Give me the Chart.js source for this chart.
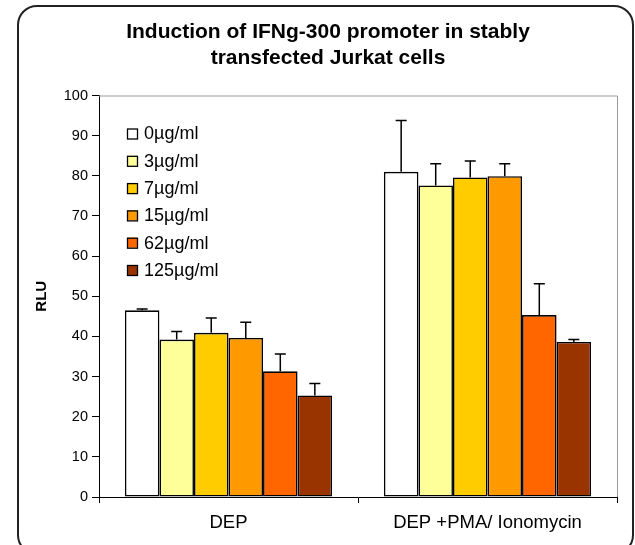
<!DOCTYPE html>
<html>
<head>
<meta charset="utf-8">
<script src="https://cdn.jsdelivr.net/npm/chart.js@4.4.1/dist/chart.umd.min.js"></script>
<style>
  html, body { margin: 0; padding: 0; background: #fff; overflow: hidden; }
  #wrap { position: relative; width: 635px; height: 545px; overflow: hidden; }
  #frame {
    position: absolute; left: 17px; top: 5px; width: 617px; height: 550px;
    border: 2px solid #222; border-radius: 20px; box-sizing: border-box; pointer-events: none;
  }
  canvas { position: absolute; left: 0; top: 0; }
</style>
</head>
<body>
<div id="wrap">
  <canvas id="chart" width="635" height="545"></canvas>
  <div id="frame"></div>
</div>
<script>
const categories = ["DEP", "DEP +PMA/ Ionomycin"];
const doses = ["0µg/ml", "3µg/ml", "7µg/ml", "15µg/ml", "62µg/ml", "125µg/ml"];
const colors = ["#FFFFFF", "#FFFF99", "#FFCC00", "#FF9900", "#FF6600", "#993300"];

// RLU means and upper error (SD) per dose
const dep = [46.5, 39.2, 40.9, 39.6, 31.3, 25.3];
const depErr = [0.3, 2.0, 3.7, 3.9, 4.3, 3.0];
const pma = [81.0, 77.6, 79.6, 79.9, 45.3, 38.6];
const pmaErr = [12.8, 5.4, 4.1, 3.1, 7.8, 0.6];

const yMin = 0, yMax = 100, yStep = 10;

Chart.defaults.font.family = "'Liberation Sans', Arial, sans-serif";
Chart.defaults.color = "#000";

// plot frame: gray top and right edges
const plotFrame = {
  id: "plotFrame",
  beforeDatasetsDraw(chart) {
    const { ctx, chartArea: a } = chart;
    ctx.save();
    ctx.strokeStyle = "#999";
    ctx.lineWidth = 1;
    ctx.beginPath();
    ctx.moveTo(a.left, a.top + 0.5);
    ctx.lineTo(a.right + 0.5, a.top + 0.5);
    ctx.lineTo(a.right + 0.5, a.bottom);
    ctx.stroke();
    ctx.restore();
  }
};

// upper-only error bars with caps
const errorBars = {
  id: "errorBars",
  afterDatasetsDraw(chart) {
    const { ctx, scales: { y } } = chart;
    ctx.save();
    ctx.strokeStyle = "#000";
    ctx.lineWidth = 1.5;
    chart.data.datasets.forEach((ds, i) => {
      chart.getDatasetMeta(i).data.forEach((bar, j) => {
        const top = y.getPixelForValue(ds.data[j] + ds.errors[j]);
        ctx.beginPath();
        ctx.moveTo(bar.x, bar.y);
        ctx.lineTo(bar.x, top);
        ctx.moveTo(bar.x - 5.5, top);
        ctx.lineTo(bar.x + 5.5, top);
        ctx.stroke();
      });
    });
    ctx.restore();
  }
};

// legend inside the plot, top left
const insideLegend = {
  id: "insideLegend",
  afterDraw(chart) {
    const { ctx, chartArea: a } = chart;
    ctx.save();
    ctx.font = "18px 'Liberation Sans', Arial, sans-serif";
    ctx.textBaseline = "middle";
    chart.data.datasets.forEach((ds, i) => {
      const x = a.left + 28, y = a.top + 38 + i * 27.3;
      ctx.fillStyle = ds.backgroundColor;
      ctx.fillRect(x, y - 5, 10, 10);
      ctx.strokeStyle = "#000";
      ctx.lineWidth = 1.3;
      ctx.strokeRect(x + 0.5, y - 4.5, 10, 10);
      ctx.fillStyle = "#000";
      ctx.fillText(ds.label, x + 17, y + 1);
    });
    ctx.restore();
  }
};

new Chart(document.getElementById("chart"), {
  type: "bar",
  data: {
    labels: categories,
    datasets: doses.map((d, i) => ({
      label: d,
      data: [dep[i], pma[i]],
      errors: [depErr[i], pmaErr[i]],
      backgroundColor: colors[i],
      borderColor: "#000",
      borderWidth: 1.6,
      borderSkipped: false,
      categoryPercentage: 0.8,
      barPercentage: 1.0,
    })),
  },
  options: {
    responsive: false,
    animation: false,
    devicePixelRatio: 1,
    layout: { padding: { left: 39, right: 18, top: 0, bottom: 0 } },
    plugins: {
      legend: { display: false },
      tooltip: { enabled: false },
      title: {
        display: true,
        text: ["Induction of IFNg-300 promoter in stably", "transfected Jurkat cells"],
        font: { size: 21, weight: "bold", lineHeight: 1.25 },
        color: "#000",
        padding: { top: 19, bottom: 24 },
      },
    },
    scales: {
      x: {
        grid: { offset: true, drawOnChartArea: false, color: "#000", tickLength: 6 },
        border: { color: "#000", width: 1 },
        ticks: { font: { size: 18.5 }, padding: 9, color: "#000" },
        afterFit: (s) => { s.height = 48; },
      },
      y: {
        min: yMin,
        max: yMax,
        grid: { drawOnChartArea: false, color: "#000", tickLength: 7 },
        border: { color: "#000", width: 1 },
        ticks: { stepSize: yStep, font: { size: 14.5 }, padding: 4, color: "#000" },
        title: {
          display: true,
          text: "RLU",
          font: { size: 15, weight: "bold" },
          color: "#000",
          padding: { top: -6, bottom: 0 },
        },
        afterFit: (s) => { s.width = 60; },
      },
    },
  },
  plugins: [plotFrame, errorBars, insideLegend],
});
</script>
</body>
</html>
